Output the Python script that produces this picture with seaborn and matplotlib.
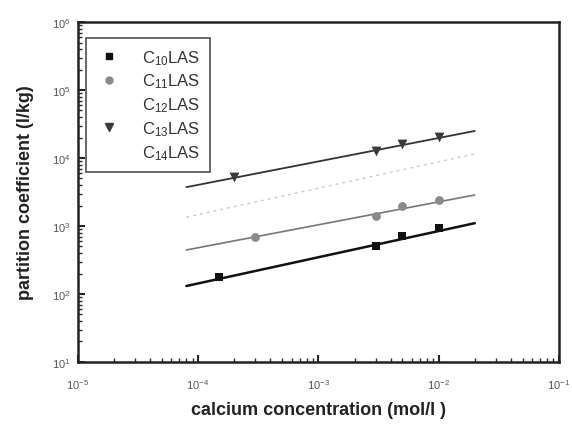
import numpy as np
import pandas as pd
import matplotlib
matplotlib.use("Agg")
import matplotlib.pyplot as plt
from matplotlib.lines import Line2D
from matplotlib.ticker import LogLocator, NullFormatter
import seaborn as sns

# ---- data ----
series = ["C$_{10}$LAS", "C$_{11}$LAS", "C$_{12}$LAS", "C$_{13}$LAS", "C$_{14}$LAS"]

c10_x = [1.5e-4, 3e-3, 5e-3, 1e-2]
c10_y = [175, 510, 710, 930]
c11_x = [3e-4, 3e-3, 5e-3, 1e-2]
c11_y = [700, 1400, 1950, 2400]
c13_x = [2e-4, 3e-3, 5e-3, 1e-2]
c13_y = [5200, 12600, 16300, 20500]

fit_x = [8e-5, 2e-2]
c10_fit = [131, 1100]
c11_fit = [444, 2860]
c12_fit = [1350, 11500]
c13_fit = [3730, 25000]

x_ticks = [1e-5, 1e-4, 1e-3, 1e-2, 1e-1]
y_ticks = [1e1, 1e2, 1e3, 1e4, 1e5, 1e6]
x_ticklabels = ["10$^{-5}$", "10$^{-4}$", "10$^{-3}$", "10$^{-2}$", "10$^{-1}$"]
y_ticklabels = ["10$^{1}$", "10$^{2}$", "10$^{3}$", "10$^{4}$", "10$^{5}$", "10$^{6}$"]

sns.set_style("ticks")
plt.rcParams["font.family"] = ["Liberation Sans", "DejaVu Sans"]
plt.rcParams["mathtext.fontset"] = "custom"
plt.rcParams["mathtext.rm"] = "Liberation Sans"
plt.rcParams["mathtext.it"] = "Liberation Sans:italic"
plt.rcParams["mathtext.bf"] = "Liberation Sans:bold"

fig = plt.figure(figsize=(5.72, 4.27), dpi=100)
ax = fig.add_axes([0.136, 0.150, 0.841, 0.796])

# fit lines
sns.lineplot(x=fit_x, y=c10_fit, color="#111111", lw=1.8, ax=ax)
sns.lineplot(x=fit_x, y=c11_fit, color="#777777", lw=1.2, ax=ax)
sns.lineplot(x=fit_x, y=c12_fit, color="#c8c8c8", lw=1.0, ls=(0, (2, 3)), ax=ax)
sns.lineplot(x=fit_x, y=c13_fit, color="#333333", lw=1.3, ax=ax)

# points
sns.scatterplot(x=c10_x, y=c10_y, marker="s", color="#111111", s=40, edgecolor="#111111", linewidth=0, ax=ax, zorder=5)
sns.scatterplot(x=c11_x, y=c11_y, marker="o", color="#8a8a8a", s=40, edgecolor="#8a8a8a", linewidth=0, ax=ax, zorder=5)
sns.scatterplot(x=c13_x, y=c13_y, marker="v", color="#3a3a3a", s=50, edgecolor="#3a3a3a", linewidth=0, ax=ax, zorder=5)

ax.set_xscale("log")
ax.set_yscale("log")
ax.set_xlim(1e-5, 1e-1)
ax.set_ylim(1e1, 1e6)
ax.set_xticks(x_ticks)
ax.set_xticklabels(x_ticklabels, fontsize=8, color="#555555")
ax.set_yticks(y_ticks)
ax.set_yticklabels(y_ticklabels, fontsize=8, color="#555555")
ax.xaxis.set_minor_locator(LogLocator(base=10, subs=np.arange(2, 10)))
ax.yaxis.set_minor_locator(LogLocator(base=10, subs=np.arange(2, 10)))
ax.xaxis.set_minor_formatter(NullFormatter())
ax.yaxis.set_minor_formatter(NullFormatter())
ax.tick_params(which="major", direction="in", length=5, width=1.5, top=False, right=False)
ax.tick_params(axis="x", which="major", pad=11)
ax.tick_params(axis="y", which="major", pad=5)
ax.tick_params(which="minor", direction="in", length=3, width=1.0, top=False, right=False)

for sp in ax.spines.values():
    sp.set_linewidth(1.8)
    sp.set_color("#222222")

ax.set_xlabel("calcium concentration (mol/l )", fontsize=13, fontweight="bold", color="#222222", labelpad=7)
ax.set_ylabel("partition coefficient (l/kg)", fontsize=13, fontweight="bold", color="#222222", labelpad=13)

handles = [
    Line2D([], [], marker="s", color="#111111", ls="none", markersize=5),
    Line2D([], [], marker="o", color="#8a8a8a", ls="none", markersize=5),
    Line2D([], [], marker="o", color="white", ls="none", markersize=5),
    Line2D([], [], marker="v", color="#3a3a3a", ls="none", markersize=6),
    Line2D([], [], marker="D", color="white", ls="none", markersize=5),
]
leg = ax.legend(handles, series, loc="upper left", bbox_to_anchor=(0.017, 0.953),
                fontsize=12, frameon=True, fancybox=False, edgecolor="#222222",
                handletextpad=1.15, labelspacing=0.3, borderpad=0.6, handlelength=1.6,
                borderaxespad=0)
leg.get_frame().set_linewidth(1.2)
for t in leg.get_texts():
    t.set_color("#333333")

fig.savefig("out.png", dpi=100)
